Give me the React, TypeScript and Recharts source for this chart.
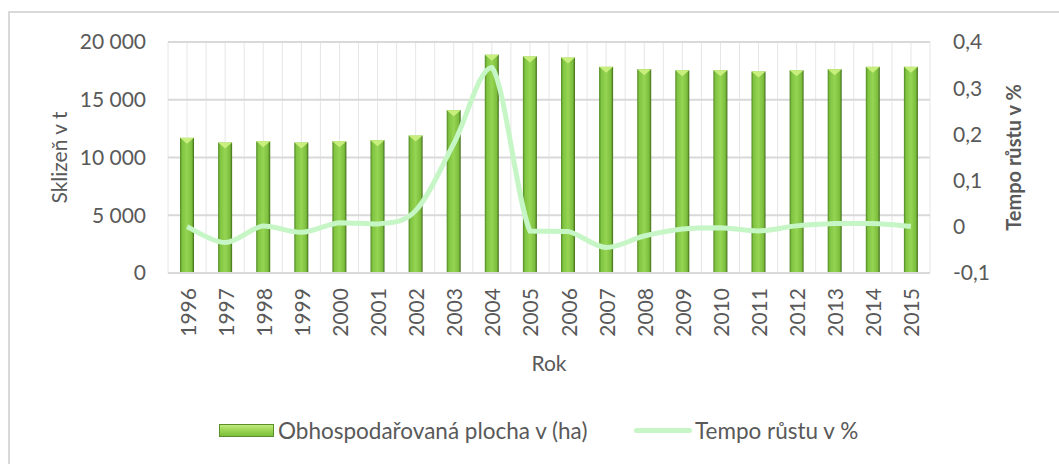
import React from 'react';
import {
  ComposedChart,
  Bar,
  Line,
  XAxis,
  YAxis,
  CartesianGrid,
  Legend,
} from 'recharts';

// values
const years = [
  '1996', '1997', '1998', '1999', '2000', '2001', '2002', '2003', '2004', '2005',
  '2006', '2007', '2008', '2009', '2010', '2011', '2012', '2013', '2014', '2015',
];
const harvest = [
  11700, 11300, 11400, 11300, 11400, 11500, 11900, 14100, 18900, 18750,
  18650, 17850, 17650, 17550, 17550, 17450, 17550, 17650, 17850, 17850,
];
const growth = [
  0.0, -0.034, 0.002, -0.012, 0.009, 0.006, 0.035, 0.18, 0.345, -0.009,
  -0.01, -0.045, -0.02, -0.005, -0.002, -0.009, 0.002, 0.007, 0.007, 0.001,
];
const leftTicks = [0, 5000, 10000, 15000, 20000];
const rightTicks = [-0.1, 0, 0.1, 0.2, 0.3, 0.4];

const barName = 'Obhospodařovaná plocha v (ha)';
const lineName = 'Tempo růstu v %';

const data = years.map((year, i) => ({ year, harvest: harvest[i], growth: growth[i] }));

const FONT = 'Lato, "Open Sans", sans-serif';
const TEXT = '#595959';
const LINE_COLOR = '#c6f6c6';

const fmtThousands = (v: number) => String(v).replace(/\B(?=(\d{3})+(?!\d))/g, ' ');
const fmtDecimal = (v: number) => String(Math.round(v * 10) / 10).replace('.', ',');

const clamp = (v: number, a: number, b: number) => Math.max(Math.min(a, b), Math.min(Math.max(a, b), v));

// Excel-like smoothed line: Catmull-Rom, control points kept inside each segment's range
function smoothCurve(context: any) {
  let pts: number[][] = [];
  return {
    areaStart() {},
    areaEnd() {},
    lineStart() {
      pts = [];
    },
    point(x: number, y: number) {
      pts.push([+x, +y]);
    },
    lineEnd() {
      const n = pts.length;
      if (!n) return;
      context.moveTo(pts[0][0], pts[0][1]);
      for (let i = 0; i < n - 1; i++) {
        const p0 = pts[i - 1] || pts[i];
        const p1 = pts[i];
        const p2 = pts[i + 1];
        const p3 = pts[i + 2] || p2;
        context.bezierCurveTo(
          p1[0] + (p2[0] - p0[0]) / 6,
          clamp(p1[1] + (p2[1] - p0[1]) / 6, p1[1], p2[1]),
          p2[0] - (p3[0] - p1[0]) / 6,
          clamp(p2[1] - (p3[1] - p1[1]) / 6, p1[1], p2[1]),
          p2[0],
          p2[1],
        );
      }
    },
  };
}

function BevelBar(props: any) {
  const { x, y, width, height } = props;
  if (!height || height <= 0) return null;
  const b = Math.min(6, height);
  return (
    <g>
      <defs>
        <linearGradient id="barGrad" x1="0" y1="0" x2="1" y2="0">
          <stop offset="0" stopColor="#4f8822" />
          <stop offset="0.15" stopColor="#80c441" />
          <stop offset="0.5" stopColor="#95d553" />
          <stop offset="0.85" stopColor="#7cbd3d" />
          <stop offset="1" stopColor="#3d6a17" />
        </linearGradient>
      </defs>
      <rect x={x} y={y} width={width} height={height} fill="url(#barGrad)" />
      <polygon
        points={`${x},${y} ${x + width},${y} ${x + width / 2},${y + b}`}
        fill="#c8ef7e"
      />
    </g>
  );
}

function YearTick(props: any) {
  const { x, y, payload } = props;
  return (
    <text
      x={x}
      y={y}
      transform={`rotate(-90 ${x} ${y})`}
      textAnchor="end"
      dominantBaseline="central"
      fill={TEXT}
      fontSize={21}
      fontFamily={FONT}
    >
      {payload.value}
    </text>
  );
}

function LegendContent(props: any) {
  const { payload = [] } = props;
  return (
    <div style={{ display: 'flex', alignItems: 'center', fontFamily: FONT, fontSize: 22.5, color: TEXT }}>
      {payload.map((p: any) => (
        <div
          key={p.value}
          style={{ display: 'flex', alignItems: 'center', width: p.dataKey === 'harvest' ? 415 : 'auto' }}
        >
          {p.dataKey === 'harvest' ? (
            <div
              style={{
                width: 55,
                height: 13,
                boxSizing: 'border-box',
                border: '1px solid #5a8f2a',
                background: 'linear-gradient(#c3ea7f 0%, #a5db5e 35%, #7cbf3a 100%)',
                marginRight: 4,
              }}
            />
          ) : (
            <div style={{ width: 58, height: 5, borderRadius: 3, background: LINE_COLOR, marginRight: 3 }} />
          )}
          <span>{p.value}</span>
        </div>
      ))}
    </div>
  );
}

export default function App() {
  return (
    <div style={{ position: 'relative', width: 1059, height: 464, background: '#fff', overflow: 'hidden' }}>
      <style>{'body{margin:0}'}</style>
      <div
        style={{
          position: 'absolute',
          left: 8,
          top: 11,
          width: 1100,
          height: 500,
          borderLeft: '2px solid #d9d9d9',
          borderTop: '2px solid #d9d9d9',
        }}
      />
      <ComposedChart
        width={1059}
        height={464}
        data={data}
        margin={{ top: 42, right: 19, bottom: 111, left: 48 }}
      >
        <CartesianGrid
          yAxisId="left"
          horizontal={false}
          stroke="#e6e6e6"
          strokeWidth={1}
          verticalCoordinatesGenerator={({ offset }: any) =>
            Array.from({ length: years.length * 2 + 1 }, (_, i) => offset.left + (i * offset.width) / (years.length * 2))
          }
        />
        <CartesianGrid yAxisId="left" vertical={false} stroke="#d9d9d9" strokeWidth={2} />
        <XAxis
          dataKey="year"
          interval={0}
          height={80}
          tickLine={false}
          tickSize={0}
          tickMargin={15}
          axisLine={{ stroke: '#d9d9d9', strokeWidth: 2 }}
          tick={<YearTick />}
          label={(p: any) => (
            <text
              x={p.viewBox.x + p.viewBox.width / 2}
              y={p.viewBox.y + 89}
              textAnchor="middle"
              dominantBaseline="central"
              fill={TEXT}
              fontSize={21}
              fontFamily={FONT}
            >
              Rok
            </text>
          )}
        />
        <YAxis
          yAxisId="left"
          width={120}
          domain={[0, 20000]}
          ticks={leftTicks}
          axisLine={false}
          tickLine={false}
          tickSize={0}
          tickMargin={22}
          tickFormatter={fmtThousands}
          tick={{ fill: TEXT, fontSize: 21, fontFamily: FONT }}
          label={(p: any) => {
            const cx = p.viewBox.x + 10;
            const cy = p.viewBox.y + p.viewBox.height / 2;
            return (
              <text
                transform={`translate(${cx},${cy}) rotate(-90)`}
                textAnchor="middle"
                dominantBaseline="central"
                fill={TEXT}
                fontSize={21}
                fontFamily={FONT}
              >
                Sklizeň v t
              </text>
            );
          }}
        />
        <YAxis
          yAxisId="right"
          orientation="right"
          width={110}
          domain={[-0.1, 0.4]}
          ticks={rightTicks}
          axisLine={false}
          tickLine={false}
          tickSize={0}
          tickMargin={23}
          tickFormatter={fmtDecimal}
          tick={{ fill: TEXT, fontSize: 21, fontFamily: FONT, textAnchor: 'start' }}
          label={(p: any) => {
            const cx = p.viewBox.x + 83;
            const cy = p.viewBox.y + p.viewBox.height / 2;
            return (
              <text
                transform={`translate(${cx},${cy}) rotate(-90)`}
                textAnchor="middle"
                dominantBaseline="central"
                fill={TEXT}
                fontSize={20}
                fontWeight="bold"
                fontFamily={FONT}
              >
                {lineName}
              </text>
            );
          }}
        />
        <Bar
          yAxisId="left"
          dataKey="harvest"
          name={barName}
          barSize={14}
          fill="#8cc94a"
          shape={<BevelBar />}
          isAnimationActive={false}
        />
        <Line
          yAxisId="right"
          dataKey="growth"
          name={lineName}
          type={smoothCurve as any}
          stroke={LINE_COLOR}
          strokeWidth={5}
          dot={false}
          activeDot={false}
          isAnimationActive={false}
        />
        <Legend
          layout="horizontal"
          verticalAlign="middle"
          align="center"
          wrapperStyle={{ top: 417, left: 219, width: 800 }}
          content={<LegendContent />}
        />
      </ComposedChart>
    </div>
  );
}
